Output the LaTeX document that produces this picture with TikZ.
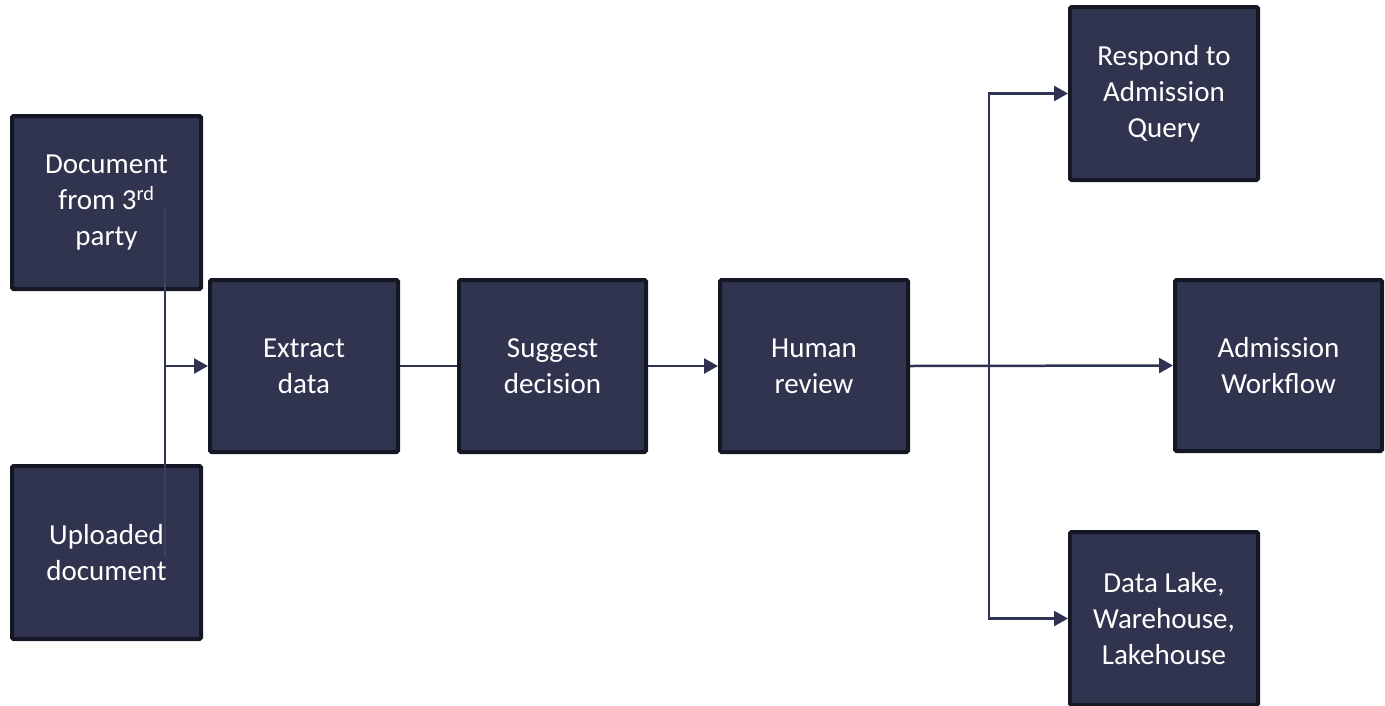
\documentclass[tikz,border=0pt]{standalone}
\usepackage{fontspec}
\setmainfont{Carlito}
\usetikzlibrary{arrows.meta}
\definecolor{boxfill}{HTML}{30344E}
\definecolor{boxline}{HTML}{141724}
\definecolor{conn}{HTML}{2F3352}
\definecolor{connin}{HTML}{3C4163}
\begin{document}
\begin{tikzpicture}[x=1pt,y=-1pt,
  box/.style={draw=boxline, line width=4pt, fill=boxfill, text=white,
    rounded corners=1.5pt, inner sep=0pt, align=center,
    font=\fontsize{29}{36}\selectfont},
  conline/.style={draw=conn, line width=2.5pt},
  arr/.style={conline, -{Triangle[length=14pt,width=15pt]}}]
\useasboundingbox (0,0) rectangle (1385,705);
\node[box, minimum width=189pt, minimum height=173pt] (doc) at (106.5,202.5) {Document\\from 3\textsuperscript{rd}\\party};
\node[box, minimum width=189pt, minimum height=173pt] (upl) at (106.5,552.5) {Uploaded\\document};
\node[box, minimum width=188pt, minimum height=172pt] (extract) at (304,366) {Extract\\data};
\node[box, minimum width=187pt, minimum height=172pt] (suggest) at (552.5,366) {Suggest\\decision};
\node[box, minimum width=188pt, minimum height=172pt] (human) at (814,366) {Human\\review};
\node[box, minimum width=188pt, minimum height=173pt] (respond) at (1164,93.5) {Respond to\\Admission\\Query};
\node[box, minimum width=207pt, minimum height=171pt] (adm) at (1278.5,365.5) {Admission\\Workflow};
\node[box, minimum width=188pt, minimum height=173pt] (lake) at (1164,618.5) {Data Lake,\\Warehouse,\\Lakehouse};
\coordinate (vtop) at (165,208);
\coordinate (vbot) at (165,557);
\coordinate (join) at (165,366);
\coordinate (split) at (989,366);
\draw[conline, draw=connin] (vtop) -- (doc.south -| vtop);
\draw[conline, draw=connin] (upl.north -| vbot) -- (vbot);
\draw[conline] (doc.south -| vtop) -- (upl.north -| vbot);
\draw[arr] (join) -- (extract.west);
\draw[conline] (extract.east) -- (suggest.west);
\draw[arr] (suggest.east) -- (human.west);
\draw[arr] (human.east) -- (adm.west);
\draw[arr] (split) |- (respond.west);
\draw[arr] (split) |- (lake.west);
\end{tikzpicture}
\end{document}
